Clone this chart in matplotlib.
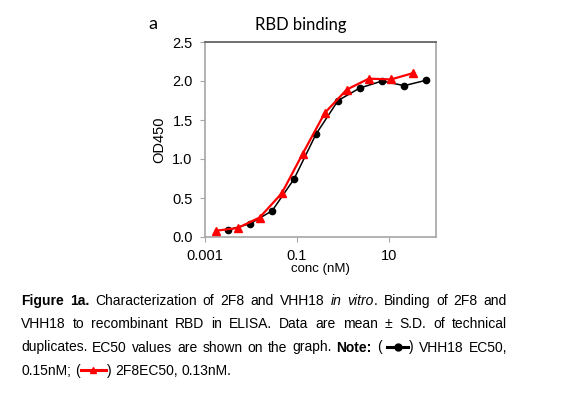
import matplotlib
matplotlib.use("Agg")
import matplotlib.pyplot as plt
from matplotlib.lines import Line2D

# datos
conc_vhh18 = [0.0032, 0.0096, 0.029, 0.086, 0.26, 0.78, 2.3, 7.0, 21, 63]
od_vhh18 = [0.09, 0.17, 0.335, 0.74, 1.32, 1.75, 1.91, 2.0, 1.94, 2.01]
conc_2f8 = [0.00175, 0.0052, 0.0156, 0.047, 0.134, 0.40, 1.2, 3.6, 10.9, 32]
od_2f8 = [0.08, 0.115, 0.25, 0.56, 1.07, 1.59, 1.89, 2.03, 2.02, 2.10]

x_ticks = [0.001, 0.1, 10]
x_tick_labels = ["0.001", "0.1", "10"]
y_ticks = [0.0, 0.5, 1.0, 1.5, 2.0, 2.5]

W, H = 585, 394
fig = plt.figure(figsize=(W / 100, H / 100), dpi=100)
ax = fig.add_axes([204.5 / W, 1 - 237 / H, 231 / W, 195 / H])

ax.plot(conc_vhh18, od_vhh18, color="black", lw=1.1, marker="o", ms=4.5, zorder=3)
ax.plot(conc_2f8, od_2f8, color="red", lw=1.6, marker="^", ms=5.2, zorder=4)

ax.set_xscale("log")
ax.set_xlim(0.001, 100)
ax.set_ylim(0, 2.5)
ax.set_xticks(x_ticks)
ax.set_xticklabels(x_tick_labels)
ax.minorticks_off()
ax.set_yticks(y_ticks)
ax.set_yticklabels([f"{v:.1f}" for v in y_ticks])

for side in ["left", "bottom", "right"]:
    ax.spines[side].set_color("#a6a6a6")
    ax.spines[side].set_linewidth(1.2)
ax.spines["top"].set_color("#595959")
ax.spines["top"].set_linewidth(1.2)
ax.tick_params(length=3.5, width=0.8, color="#a6a6a6", pad=5,
               labelsize=10.5, labelcolor="black")
for lab in ax.get_xticklabels() + ax.get_yticklabels():
    lab.set_family(["Liberation Sans", "DejaVu Sans"])

ax.set_xlabel("conc (nM)", fontsize=9.5, family=["Liberation Sans"], labelpad=0)
ax.set_ylabel("OD450", fontsize=10.5, family=["Liberation Sans"], labelpad=4)

fig.text(301 / W, 1 - 25 / H, "RBD binding", ha="center", va="center",
         fontsize=12, family=["Lato", "DejaVu Sans"])
fig.text(153 / W, 1 - 24 / H, "a", ha="center", va="center",
         fontsize=13, family=["Lato", "DejaVu Sans"])

# ---- pie de figura (texto justificado) ----
cap_font = ["Liberation Sans", "DejaVu Sans"]
cap_size = 10
x_left, x_right = 21, 507
baselines = [305, 328.3, 351.5, 374.7]

N = ("n", "normal")
B = ("b", "normal")
I = ("n", "italic")

lines = [
    [[("Figure", B)], [("1a.", B)], [("Characterization", N)], [("of", N)],
     [("2F8", N)], [("and", N)], [("VHH18", N)], [("in", I)],
     [("vitro", I), (".", N)], [("Binding", N)], [("of", N)], [("2F8", N)],
     [("and", N)]],
    [[(w, N)] for w in "VHH18 to recombinant RBD in ELISA. Data are mean ± S.D. of technical".split()],
    [[(w, N)] for w in "duplicates. EC50 values are shown on the graph.".split()]
    + [[("Note:", B)], [("(", N)], [("SYM", ("black", "o", 23)), (")", N)],
       [("VHH18", N)], [("EC50,", N)]],
    [[("0.15nM;", N)], [("(", N), ("SYM", ("red", "^", 27)), (")", N)],
     [("2F8EC50,", N)], [("0.13nM.", N)]],
]

renderer = fig.canvas.get_renderer()


def make_text(s, st):
    return fig.text(0, 0, s, fontsize=cap_size, family=cap_font,
                    fontweight="bold" if st[0] == "b" else "normal",
                    style=st[1], ha="left", va="baseline")


def text_w(t):
    return t.get_window_extent(renderer).width


probe1 = make_text("x x", N)
probe2 = make_text("xx", N)
space_w = text_w(probe1) - text_w(probe2)
probe1.remove()
probe2.remove()

for li, words in enumerate(lines):
    built = []
    total = 0
    for word in words:
        parts = []
        ww = 0
        for s, st in word:
            if s == "SYM":
                parts.append(("sym", st, st[2]))
                ww += st[2]
            else:
                t = make_text(s, st)
                w = text_w(t)
                parts.append(("txt", t, w))
                ww += w
        built.append((parts, ww))
        total += ww
    if li < len(lines) - 1:
        gap = (x_right - x_left - total) / (len(built) - 1)
    else:
        gap = space_w
    y = baselines[li]
    x = x_left
    for parts, ww in built:
        for kind, obj, w in parts:
            if kind == "txt":
                obj.set_position((x / W, 1 - y / H))
            else:
                color, marker, _ = obj
                yc = 1 - (y - 4.5) / H
                fig.add_artist(Line2D([(x + 1) / W, (x + w - 1) / W], [yc, yc],
                                      color=color, lw=2.2, transform=fig.transFigure))
                fig.add_artist(Line2D([(x + w / 2) / W], [yc], color=color,
                                      marker=marker, ms=5, lw=0,
                                      transform=fig.transFigure))
            x += w
        x += gap

fig.savefig("out.png", dpi=100)
